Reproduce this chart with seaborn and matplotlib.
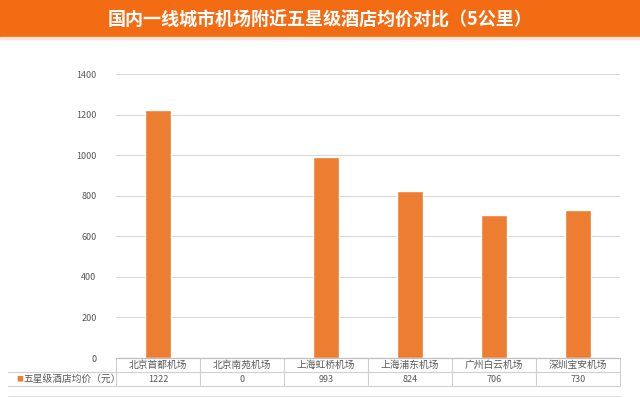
import numpy as np
import pandas as pd
import seaborn as sns
import matplotlib.pyplot as plt
import matplotlib.transforms as mtransforms
from matplotlib.patches import Rectangle

# Data
airports = ['北京首都机场', '北京南苑机场', '上海虹桥机场', '上海浦东机场', '广州白云机场', '深圳宝安机场']
avg_price = [1222, 0, 993, 824, 706, 730]
series_name = '五星级酒店均价（元）'
title = '国内一线城市机场附近五星级酒店均价对比（5公里）'
yticks = [0, 200, 400, 600, 800, 1000, 1200, 1400]

bar_color = '#ED7D31'
grid_color = '#D9D9D9'
border_color = '#D0D0D0'
text_color = '#595959'

sns.set_theme(style='white')
plt.rcParams['font.family'] = ['Noto Sans CJK SC', 'DejaVu Sans']

df = pd.DataFrame({'airport': airports, 'price': avg_price})

fig = plt.figure(figsize=(6.4, 3.97), dpi=100)
W, H = 640, 397
ax = fig.add_axes([116 / W, (H - 358) / H, 504 / W, 284 / H])

sns.barplot(data=df, x='airport', y='price', color=bar_color, width=0.31,
            saturation=1, ax=ax, zorder=3)

ax.set_ylim(0, 1400)
ax.set_xlim(-0.5, len(airports) - 0.5)
ax.set_yticks(yticks)
ax.set_yticklabels([str(v) for v in yticks], fontsize=6.5, color=text_color)
ax.tick_params(axis='y', length=0, pad=14)
ax.set_xticks([])
ax.set_xlabel('')
ax.set_ylabel('')
for v in yticks[1:]:
    ax.axhline(v, color=grid_color, lw=0.8, zorder=1)
for s in ax.spines.values():
    s.set_visible(False)

# Data table under the chart (Excel style)
trans = mtransforms.blended_transform_factory(ax.transData, ax.transAxes)
row_h = 14 / 284
n = len(airports)
# horizontal borders
ax.plot([-0.5, n - 0.5], [0, 0], transform=trans, color='#BFBFBF', lw=0.9, clip_on=False, zorder=4)
for yy in [-row_h, -2 * row_h]:
    ax.plot([-0.5 - 108 / 84, n - 0.5], [yy, yy], transform=trans, color=border_color,
            lw=0.8, clip_on=False)
# vertical borders
for i in range(n + 1):
    ax.plot([i - 0.5, i - 0.5], [0, -2 * row_h], transform=trans, color=border_color,
            lw=0.8, clip_on=False)
for i, (name, val) in enumerate(zip(airports, avg_price)):
    ax.text(i, -row_h / 2, name, transform=trans, ha='center', va='center',
            fontsize=7, color=text_color)
    ax.text(i, -1.5 * row_h, str(val), transform=trans, ha='center', va='center',
            fontsize=6.5, color=text_color)
# row label with legend key
ax.text(-0.5 - 100 / 84, -1.5 * row_h, '■', transform=trans, ha='left', va='center',
        fontsize=5, color=bar_color)
ax.text(-0.5 - 92 / 84, -1.5 * row_h, series_name, transform=trans, ha='left', va='center',
        fontsize=7, color=text_color)

# faint line at the bottom edge
fig.add_artist(plt.Line2D([8 / W, 620 / W], [1.5 / H, 1.5 / H], color='#E0E0E0', lw=0.8))

# orange title band
fig.patches.append(Rectangle((0, 1 - 37 / H), 1, 37 / H, transform=fig.transFigure,
                             color='#F36C14', zorder=0))
fig.patches.append(Rectangle((0, 1 - 39 / H), 1, 2 / H, transform=fig.transFigure,
                             color='#FCE3D2', zorder=0))
fig.text(0.5, 1 - 20 / H, title, ha='center', va='center', fontsize=13,
         fontweight='bold', color='white')

fig.savefig('out.png', dpi=100)
